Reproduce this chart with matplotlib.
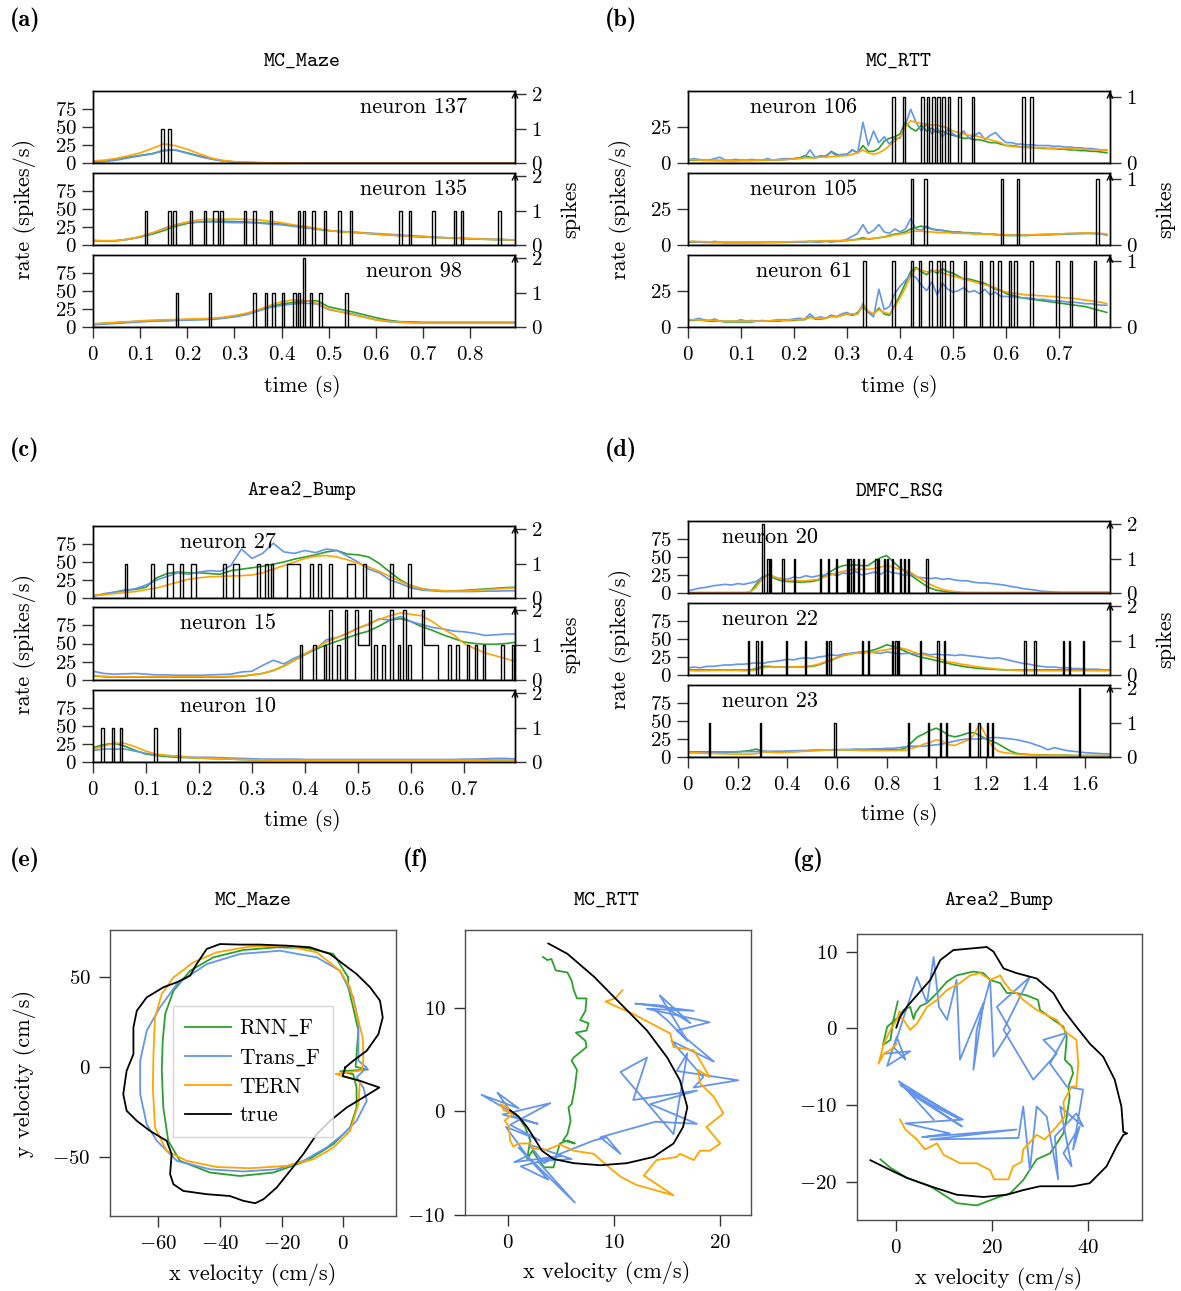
import numpy as np
import matplotlib.pyplot as plt
from matplotlib import ticker

plt.rcParams.update({
    'font.family': 'serif',
    'font.serif': ['cmr10'],
    'mathtext.fontset': 'cm',
    'axes.formatter.use_mathtext': True,
    'axes.linewidth': 1.0,
    'xtick.direction': 'out',
    'ytick.direction': 'out',
    'xtick.major.size': 8,
    'ytick.major.size': 8,
    'xtick.major.width': 1.0,
    'ytick.major.width': 1.0,
    'xtick.color': '0.2',
    'ytick.color': '0.2',
    'xtick.labelcolor': 'black',
    'ytick.labelcolor': 'black',
    'xtick.labelsize': 15,
    'ytick.labelsize': 15,
})

C_RNN = '#2ca02c'
C_TRANS = 'cornflowerblue'
C_TERN = 'orange'
C_TRUE = 'black'

# ---------------- (a) MC_Maze firing rates, 25 ms grid ----------------
t_a = np.arange(37) * 0.025
a137_rnn = [1.5, 2.5, 5, 8, 10.5, 13, 17.5, 18, 14, 10, 6, 3, 1.5, 0.8, 0.4, 0.2, 0.1, 0.05,
            0, 0, 0, 0, 0, 0, 0, 0, 0, 0, 0, 0, 0, 0, 0, 0, 0, 0, 0]
a137_trans = [1, 2, 4, 7, 10, 12.5, 17, 18, 13.5, 9, 5.5, 2.8, 1.3, 0.7, 0.3, 0.2, 0.1, 0.05,
              0, 0, 0, 0, 0, 0, 0, 0, 0, 0, 0, 0, 0, 0, 0, 0, 0, 0, 0]
a137_tern = [3, 4, 6.5, 10, 14, 20, 26.5, 24, 19, 13, 7, 3.7, 1.8, 1, 0.6, 0.3, 0.2, 0.1,
             0, 0, 0, 0, 0, 0, 0, 0, 0, 0, 0, 0, 0, 0, 0, 0, 0, 0, 0]
a135_rnn = [6, 5.5, 6, 8, 11, 15, 20, 26, 30, 32, 33, 33, 32.5, 32, 31, 30, 29, 27, 25, 22,
            20, 18.5, 17.5, 16.5, 15, 14, 13, 12, 11, 10.5, 10, 9.3, 8.5, 8, 7.5, 7.2, 7]
a135_trans = [6, 5.5, 6, 8, 11, 16, 23, 28, 31, 32, 32, 31.5, 31, 31, 30.5, 29, 28, 26, 24, 22,
              20, 19, 18, 17, 16, 15, 14, 13, 12, 11, 10, 9.5, 9, 8.5, 8, 7.5, 7]
a135_tern = [6.5, 6, 6, 8, 12, 17, 22, 28, 32, 35, 36, 36, 36, 35.5, 35, 33, 31, 28, 26, 23,
             20, 18.5, 17.5, 16.5, 15.5, 14, 13, 12, 11.5, 10.5, 10, 9.5, 8.7, 8.2, 7.8, 7.4, 7]
a98_rnn = [4, 5, 6, 7, 8, 8.5, 9, 9.5, 10, 10.5, 11, 12.5, 15, 18, 23, 28, 32, 34, 36, 36.5,
           28, 24.5, 21, 17, 13, 9.5, 7.5, 7, 6.5, 6.5, 6.5, 6.5, 6.5, 6.5, 6.5, 6.5, 6.5]
a98_trans = [3, 4, 5, 6, 7, 8, 8.5, 9, 9.5, 10, 10.5, 12, 14, 17, 22, 27, 30, 32, 33, 32,
             24, 21, 18, 14, 10, 7.5, 6.5, 6, 5.5, 5.5, 5.5, 5.5, 5.5, 5.5, 5.5, 5.5, 5.5]
a98_tern = [4.5, 5.5, 6.5, 7.5, 8.5, 9.5, 10, 10.5, 11, 11.5, 12, 13.5, 16, 19, 24, 30, 35, 37.5, 37, 33,
            25, 21, 17, 13.5, 10, 8, 7, 6, 5.5, 5.5, 5.5, 5.5, 5.5, 5.5, 5.5, 5.5, 5.5]
a_spikes = [
    [0.1475, 0.1625],
    [0.1125, 0.1625, 0.1725, 0.2075, 0.2375, 0.2575, 0.2625, 0.2725, 0.3225, 0.3425, 0.3775,
     0.4375, 0.4475, 0.4675, 0.4925, 0.5225, 0.5475, 0.6525, 0.6725, 0.7225, 0.7675, 0.7825, 0.8625],
    [0.1775, 0.2475, 0.3425, 0.3675, 0.3825, 0.4025, 0.4275, 0.4375, 0.4475, 0.4475, 0.4625,
     0.4825, 0.5375],
]
a_names = ['neuron 137', 'neuron 135', 'neuron 98']

# ---------------- (b) MC_RTT firing rates, 10 ms grid ----------------
t_b = np.arange(80) * 0.01
b106_rnn = [2, 2, 2, 1.8, 1.8, 1.7, 1.7, 1.6, 1.6, 1.6, 1.7, 1.7, 1.8, 1.8, 1.9, 2, 2, 2.2, 2.4, 2.6,
            3, 3.5, 5, 4, 3.5, 5, 4, 8, 6, 5,
            6, 9, 7, 12, 8, 8, 10, 15, 17, 18,
            20, 28, 24, 22, 26, 22, 24, 21, 22, 20,
            19, 18, 17, 17, 16, 16, 15, 14, 14, 13,
            12, 12, 11.5, 11, 11, 10.5, 10.5, 10, 10, 10,
            9.5, 9.5, 9, 9, 8.5, 8.5, 8, 8, 7.5, 7]
b106_trans = [2, 3, 2.5, 2, 2, 3, 4, 2, 2, 2.5, 2, 2, 2.5, 2, 2, 3, 2, 2.5, 3, 3,
              3, 3.5, 4, 9, 4, 4.5, 5, 7.5, 5, 6,
              6, 9, 7, 28, 12, 22, 14, 18, 13, 17,
              17, 26, 37, 28, 22, 27, 20, 24, 18, 23,
              20, 18, 22, 17, 19, 21, 16, 19, 21, 17,
              14, 14, 13, 13, 12.5, 12.5, 12, 12, 12, 11.5,
              11.5, 11, 11, 10.5, 10.5, 10, 10, 9.5, 9, 9]
b106_tern = [2.5, 2.3, 2, 2, 1.8, 1.8, 1.7, 1.7, 1.7, 1.7, 1.8, 1.8, 1.8, 1.9, 2, 2, 2.1, 2.2, 2.3, 2.5,
             2.8, 3, 3.5, 3.5, 3.5, 4, 4, 4.5, 4.5, 5,
             5, 6, 7, 9, 7, 6, 7, 9, 12, 15,
             18, 25, 29, 28, 27, 27, 26, 26, 25, 24,
             22, 21, 20, 19, 19, 18, 17, 16, 15, 14,
             12, 11.5, 11, 11, 10.5, 10.5, 10.5, 10.5, 10, 10,
             10, 10, 10, 9.5, 9.5, 9.5, 9, 9, 9, 8.5]
b105_rnn = [2, 2, 2, 1.8, 1.8, 1.7, 1.7, 1.6, 1.6, 1.6, 1.6, 1.6, 1.6, 1.6, 1.7, 1.7, 1.8, 1.8, 1.9, 2,
            2, 2.1, 2.2, 2.3, 2.4, 2.5, 2.6, 2.7, 2.8, 3,
            3, 3.5, 4, 5, 4, 4.5, 5, 5.5, 6.5, 7.5,
            8, 9, 11, 12, 13, 12, 11, 10.5, 10, 9.5,
            9, 9, 8.5, 8.5, 8, 8, 7.5, 7.5, 7, 7,
            6.5, 6.5, 6.5, 6.5, 6.5, 6.8, 7, 7, 7, 7.2,
            7.3, 7.5, 7.6, 7.8, 7.8, 8, 8, 7.8, 7.5, 7]
b105_trans = [2, 2.5, 2, 2, 2, 2.5, 2, 1.8, 1.8, 1.8, 1.8, 1.8, 2, 1.8, 1.8, 2, 1.8, 2, 2, 2,
              2, 2, 2, 2.5, 2, 2, 2.5, 2, 2.5, 2.5,
              4, 6, 8, 14, 8, 10, 14, 9, 8, 11,
              9, 11, 18, 11, 10, 13, 11, 10, 10, 9,
              9, 9, 8, 8, 8, 8, 7.5, 7.5, 7.5, 7,
              7, 7, 7, 7, 7, 7, 7.2, 7.3, 7.4, 7.5,
              7.6, 7.7, 7.8, 7.9, 8, 8, 8, 8, 7.5, 7]
b105_tern = [2.5, 2.5, 2.4, 2.3, 2.2, 2, 2, 2, 2, 2, 2, 2, 2, 2, 2, 2, 2, 2, 2, 2.2,
             2.3, 2.4, 2.5, 2.6, 2.7, 2.8, 2.9, 3, 3, 3.1,
             3.2, 3.5, 3.7, 4, 4.2, 4.5, 5, 5.5, 6, 7,
             7.5, 8, 9, 9.5, 9.5, 9, 9, 8.5, 8.5, 8.5,
             8, 8, 8, 8, 7.5, 7.5, 7.5, 7.5, 7, 7,
             7, 6.8, 6.8, 6.8, 6.8, 7, 7, 7.2, 7.4, 7.5,
             7.6, 7.8, 8, 8, 8.2, 8.3, 8.3, 8.2, 8, 7.5]
b61_rnn = [4.5, 4.5, 5, 4.5, 4, 4, 4, 3.5, 3.5, 3.5, 3.5, 3.5, 3.5, 4, 4, 4, 4, 4, 4.5, 4.5,
           4.5, 5, 5, 7, 5.5, 5.5, 6, 8, 7, 8,
           9, 8, 10, 14, 10, 9, 13, 9, 8, 15,
           22, 30, 38, 41, 38, 36, 39, 37, 40, 38,
           37, 35, 33, 33, 32, 31, 30, 28, 26, 25,
           23, 22, 21, 20, 19.5, 19, 18.5, 18, 17.5, 17,
           16.5, 16, 15.5, 15, 14.5, 14, 13, 12, 11, 10]
b61_trans = [5, 5, 6, 5, 4.5, 5.5, 4, 4, 4, 4, 5, 4, 4.5, 4, 4.5, 4, 4.5, 5, 5, 5,
             5.5, 6, 5.5, 9, 6, 7, 6, 8, 7, 9,
             10, 8, 9, 16, 10, 7, 26, 12, 14, 23,
             28, 32, 36, 34, 29, 25, 31, 22, 30, 26,
             24, 25, 27, 24, 25, 23, 26, 22, 24, 21,
             21, 21, 20.5, 20, 20, 19.5, 19, 19, 18.5, 18,
             18, 17.5, 17, 17, 16.5, 16, 16, 15.5, 15, 15]
b61_tern = [5, 5, 5, 4.5, 4.5, 4.5, 4, 4, 4, 4, 4, 4, 4, 4, 4, 4.2, 4.3, 4.5, 4.6, 4.8,
            5, 5, 5.5, 6.5, 6, 6, 6, 7, 7, 8,
            9, 9, 9, 15, 11, 9, 12, 10, 9, 14,
            20, 27, 35, 40, 39, 38, 38, 39, 37, 36,
            35, 34, 33, 32, 31, 30, 29, 28, 27, 25,
            24, 23.5, 23, 22.5, 22, 22, 21.5, 21.5, 21, 21,
            20.5, 20, 20, 19.5, 19, 18.5, 18, 17.5, 17, 16]
b_spikes = [
    [0.3875, 0.4075, 0.4425, 0.4525, 0.4625, 0.4725, 0.4825, 0.4925, 0.5125, 0.5375, 0.6325, 0.6475],
    [0.4225, 0.4475, 0.5925, 0.6225, 0.7725],
    [0.3325, 0.3875, 0.4225, 0.4375, 0.4575, 0.4725, 0.4825, 0.4975, 0.5225, 0.5525, 0.5725,
     0.5875, 0.6075, 0.6175, 0.6475, 0.6975, 0.7225, 0.7675],
]
b_names = ['neuron 106', 'neuron 105', 'neuron 61']

# ---------------- (c) Area2_Bump firing rates, 20 ms grid ----------------
t_c = np.arange(41) * 0.02
c27_rnn = [3, 5, 8, 11, 12, 15, 28, 34, 36, 35, 35, 34, 33, 38, 40, 42, 44, 47, 50, 54,
           57, 60, 64, 66, 61, 60, 57, 48, 36, 25, 17, 13, 11, 10, 10, 10.5, 11.5, 12.5, 13.5, 14.5, 15]
c27_trans = [2, 6, 8, 10, 13, 18, 25, 30, 35, 33, 36, 38, 37, 45, 68, 55, 62, 76, 64, 62,
             66, 63, 68, 66, 58, 50, 40, 35, 25, 20, 14, 11, 10, 9, 9, 9, 9, 9.5, 9.5, 10, 10]
c27_tern = [4, 4.5, 6, 7.5, 9, 11.5, 14, 18, 22, 26, 28, 29.5, 30, 30.5, 31, 32, 35, 40, 45, 50,
            55, 58, 59, 57, 53, 48, 43, 37, 30, 23, 17, 13, 11, 10, 9.7, 9.7, 10.5, 11.5, 12.5, 13.5, 14]
c15_rnn = [5.5, 4.5, 4, 4, 4, 4, 4, 4, 4, 4, 4, 4, 4, 4.5, 5, 7, 9, 13, 19, 27,
           35, 42, 48, 53, 58, 63, 67, 74, 82, 84, 80, 73, 68, 62, 57, 52, 50, 49, 49, 50, 52]
c15_trans = [12, 9, 8, 8.5, 9, 8, 7, 7, 6.5, 6.5, 6.5, 7, 7.5, 8, 11, 12, 20, 27, 22, 30,
             36, 42, 55, 58, 64, 71, 76, 84, 82, 87, 80, 76, 72, 70, 67, 66, 64, 61, 62, 63, 63]
c15_tern = [6, 5, 4.5, 4.5, 4.5, 4.5, 4.5, 4.5, 4.5, 4.5, 4.5, 4.5, 4.5, 5, 5.5, 7, 9, 13, 19, 27,
            36, 44, 52, 58, 64, 71, 77, 83, 88, 92, 90, 88, 80, 70, 62, 50, 43, 37, 33, 29, 25]
c10_rnn = [20, 24, 26, 22, 16, 11, 9, 7.5, 6.5, 6, 5.5, 5, 4.5, 4, 3.5, 3, 3, 3, 3, 3,
           3, 3, 3, 3, 3, 3, 3, 3, 3, 3, 3, 3, 3, 3, 3, 3, 3, 3, 3, 3, 3]
c10_trans = [16, 18, 18, 18, 15, 12, 10, 9, 8, 7, 6.5, 6.5, 6, 5.5, 5, 4.5, 4, 4, 4, 4,
             3.5, 3.5, 3.5, 3.5, 3.5, 3.5, 3.5, 3.5, 3.5, 3.5, 3.5, 3.5, 3.5, 3.5, 3.5, 4, 4, 4.5, 5, 5, 4]
c10_tern = [18, 22, 26, 26, 21, 15, 11, 9, 8, 6.5, 5.5, 5, 4.5, 4, 3.5, 3, 3, 2.5, 2.5, 2.5,
            2.5, 2.5, 2.5, 2.5, 2.5, 2.5, 2.5, 2.5, 2.5, 2.5, 2.5, 2.5, 2.5, 2.5, 2.5, 2.5, 2.5, 2.5, 3, 3, 2.5]
c_spikes = [
    [0.0625, 0.1125, 0.1425, 0.1475, 0.1675, 0.1875, 0.1925, 0.2475, 0.2675, 0.2725, 0.3125,
     0.3275, 0.3375, 0.3675, 0.3725, 0.3775, 0.3825, 0.3875, 0.4125, 0.4275, 0.4475, 0.4825,
     0.4875, 0.4925, 0.5125, 0.5625, 0.5975],
    [0.3925, 0.4175, 0.4375, 0.4475, 0.4475, 0.4625, 0.4775, 0.4775, 0.4975, 0.4975, 0.5025,
     0.5075, 0.5125, 0.5175, 0.5225, 0.5225, 0.5325, 0.5475, 0.5625, 0.5625, 0.5775, 0.5875,
     0.5875, 0.5975, 0.6225, 0.6225, 0.6275, 0.6325, 0.6375, 0.6425, 0.6475, 0.6725, 0.6875,
     0.7075, 0.7225, 0.7375, 0.7725, 0.7925],
    [0.0175, 0.0375, 0.0525, 0.1175, 0.1625],
]
c_names = ['neuron 27', 'neuron 15', 'neuron 10']

# ---------------- (d) DMFC_RSG firing rates, 25 ms grid ----------------
t_d = np.arange(69) * 0.025
d20_rnn = [0.5, 0.5, 0.5, 0.5, 0.5, 0.5, 0.5, 0.5, 0.5, 0.5,
           1, 12, 22, 25, 20, 17, 16, 15.5, 15, 15.5,
           16, 18, 24, 30, 35, 38, 39, 39, 38, 38,
           44, 49, 52, 44, 36, 30, 24, 18, 12, 7,
           4, 2.5, 1.5, 1, 0.5, 0.5, 0.5, 0.5, 0.5, 0.5,
           0.5, 0.5, 0.5, 0.5, 0.5, 0.5, 0.5, 0.5, 0.5, 0.5,
           0.5, 0.5, 0.5, 0.5, 0.5, 0.5, 0.5, 0.5, 0.5]
d20_trans = [3, 5, 7, 8, 10, 11, 12, 11, 13, 12,
             14, 16, 22, 26, 22, 20, 19, 22, 21, 24,
             22, 24, 25, 27, 24, 28, 26, 30, 25, 27,
             29, 26, 31, 28, 27, 24, 26, 22, 21, 20,
             21, 19, 20, 18, 17, 17, 15, 14, 14, 13,
             12, 11, 9, 8, 6, 5, 4, 2.5, 2, 1.5,
             1, 1, 1, 1, 1, 1, 1, 1, 1]
d20_tern = [0.5, 0.5, 0.5, 0.5, 0.5, 0.5, 0.5, 0.5, 0.5, 0.5,
            1, 8, 20, 25, 22, 20, 18, 17, 17, 17,
            18, 19, 22, 25, 28, 30, 32, 33, 33, 33,
            34, 36, 38, 36, 33, 31, 28, 22, 17, 12,
            8, 5, 3, 2, 1, 0.5, 0.5, 0.5, 0.5, 0.5,
            0.5, 0.5, 0.5, 0.5, 0.5, 0.5, 0.5, 0.5, 0.5, 0.5,
            0.5, 0.5, 0.5, 0.5, 0.5, 0.5, 0.5, 0.5, 0.5]
d22_rnn = [7, 7, 7, 7, 7, 7, 7, 7, 7, 7,
           7, 9, 12, 12, 11, 11, 11, 11, 11, 11.5,
           12, 14, 17, 20, 24, 27, 29, 31, 32, 33,
           35, 38, 42, 40, 37, 33, 29, 26, 24, 22,
           20, 18, 16, 14, 12.5, 11, 10, 9, 8.5, 8,
           7.5, 7, 7, 7, 7, 7, 7, 7, 7, 7,
           7, 7, 7, 7, 7, 7, 7, 7, 7]
d22_trans = [10, 11, 10, 12, 12, 13, 14, 14, 15, 15,
             16, 17, 16, 18, 19, 20, 22, 21, 23, 24,
             23, 25, 26, 28, 27, 29, 30, 31, 30, 32,
             31, 30, 32, 31, 29, 30, 30, 29, 30, 28,
             29, 28, 28, 27, 28, 27, 26, 25, 24, 23,
             24, 22, 20, 18, 16, 15, 13, 12, 11, 11,
             10, 10, 9, 9, 8, 8, 8, 7, 7]
d22_tern = [6, 6, 6, 6, 6.5, 6.5, 6.5, 6.5, 6.5, 6,
            6, 7, 10, 11, 11, 11, 11, 11, 11.5, 12,
            13, 15, 18, 21, 24, 27, 29, 30, 31, 31,
            32, 34, 35, 37, 38, 36, 33, 30, 28, 26,
            24, 21, 18, 17, 15, 14, 12, 11, 10, 9,
            8, 7.5, 7, 6.5, 6, 6, 6, 6, 6, 6,
            6, 6, 6, 6, 6, 6, 6, 6, 6]
d23_rnn = [7, 7, 7, 7, 7, 7, 7, 7, 7, 8,
           9, 11, 8, 7, 7, 7, 7, 7.5, 8, 8.5,
           9, 9.5, 10, 10, 10, 10, 10, 10, 10, 10,
           10, 10, 10, 10, 10, 12, 20, 28, 32, 37,
           40, 36, 30, 28, 30, 33, 34, 30, 25, 22,
           18, 13, 8, 5, 4, 3.5, 3, 3, 2.5, 2.5,
           2.5, 2.5, 2, 2, 2, 2, 2, 2, 2]
d23_trans = [6, 6, 6, 6.5, 6.5, 7, 7, 7, 7.5, 7.5,
             7.5, 7.5, 8, 8, 8, 8, 8.5, 8.5, 9, 9,
             9.5, 9.5, 10, 10, 10, 10.5, 10.5, 11, 11, 11,
             11.5, 11.5, 12, 12, 13, 14, 15, 15, 15, 16,
             17, 18, 20, 22, 24, 25, 25, 25, 26, 27,
             27, 26, 25, 24, 22, 20, 17, 14, 10, 13,
             11, 9, 8, 7, 6, 5.5, 5, 4.5, 4]
d23_tern = [6, 6, 5.5, 5, 5, 4.5, 4.5, 4, 4, 4,
            4, 4.5, 7, 7, 6, 6, 6.5, 7, 7.5, 8,
            8.5, 9, 9.5, 10, 10, 10, 10, 9.5, 9, 9,
            9, 9, 9, 9, 9.5, 9, 12, 14, 18, 20,
            24, 22, 17, 16, 20, 23, 30, 46, 30, 15,
            8, 6, 5, 4, 3.5, 3, 3, 2.5, 2.5, 2.5,
            2.5, 2, 2, 2, 2, 2, 2, 2, 2]
d_spikes = [
    [0.3025, 0.3025, 0.3225, 0.3325, 0.3825, 0.4275, 0.5325, 0.5675, 0.5975, 0.6425, 0.6525,
     0.6675, 0.6875, 0.7075, 0.7575, 0.7675, 0.7925, 0.8025, 0.8225, 0.8575, 0.8725, 0.8875, 0.9625],
    [0.2425, 0.2775, 0.2975, 0.3975, 0.4725, 0.5575, 0.5725, 0.7025, 0.7275, 0.8225, 0.8375,
     0.8475, 0.9375, 1.0075, 1.0325, 1.3575, 1.3975, 1.5125, 1.5375, 1.5925],
    [0.0875, 0.2925, 0.5925, 0.8875, 0.9675, 1.0175, 1.0425, 1.1325, 1.1725, 1.2075, 1.2275,
     1.5775, 1.5775],
]
d_names = ['neuron 20', 'neuron 22', 'neuron 23']

# ---------------- (e) MC_Maze hand velocity ----------------
e_rnn_x = [1.6, -3.2, -11.9, -21.6, -32.4, -42.2, -49.7, -55.1, -57.8, -58.6, -58.9, -58.4, -56.8, -53.0,
           -43.2, -33.5, -22.7, -11.9, -3.2, 2.2, 4.3, 4.3, 3.2, -1.0, 8.0, 4.0, 4.3, 4.9, 3.2, 1.6, 1.6]
e_rnn_y = [49.6, 62.6, 65.9, 66.3, 64.8, 60.7, 53.3, 42.2, 29.3, 14.4, -2.2, -22.6, -41.1, -52.2,
           -58.7, -60.6, -58.7, -52.2, -42.9, -33.7, -22.6, -11.5, -4.1, -2.5, -1.5, 0.0, 7.0, 20.0, 32.9, 44.1, 49.6]
e_trans_x = [3.2, -1.1, -8.6, -20.5, -33.5, -44.3, -54.0, -59.5, -63.8, -65.9, -65.9, -63.8, -60.5, -54.0,
             -43.2, -32.4, -21.6, -13.0, -5.4, 0.0, 4.3, 7.6, 6.5, 4.3, 7.6, 4.9, 4.9, 3.2]
e_trans_y = [38.5, 53.3, 60.7, 64.4, 62.6, 57.0, 45.9, 32.9, 20.0, 3.3, -15.2, -31.9, -41.1, -52.2,
             -56.9, -58.1, -56.9, -52.2, -44.8, -37.4, -30.0, -18.9, -11.5, -5.9, -0.4, 3.3, 25.6, 38.5]
e_tern_x = [-1.1, -8.6, -18.4, -30.3, -41.1, -48.7, -55.1, -58.9, -61.1, -61.6, -61.8, -61.1, -57.3, -50.8,
            -41.1, -30.3, -18.4, -9.7, -3.2, 2.2, 4.9, 5.4, -2.5, 6.0, 6.5, 6.3, 4.3, 2.2, -1.1]
e_tern_y = [53.3, 63.5, 67.2, 66.7, 63.5, 57.9, 49.6, 40.4, 27.4, 7.0, -11.5, -33.7, -46.7, -52.2,
            -55.6, -56.3, -55.0, -51.3, -44.8, -35.6, -20.7, -7.8, -4.0, -2.0, 3.3, 16.3, 29.3, 44.1, 53.3]
e_true_x = [0.6, 3.2, 7.6, 11.4, 12.8, 11.9, 8.7, 4.3, 0.0, -4.3, -10.8, -18.4, -27.0, -33.5, -40.0,
            -44.3, -47.6, -49.7, -54.0, -58.4, -63.8, -67.0, -68.1, -68.1, -70.3, -71.4, -70.3, -67.0,
            -62.7, -57.3, -55.7, -56.2, -55.1, -51.9, -44.3, -36.8, -32.4, -28.6, -25.9, -21.6, -17.3,
            -13.0, -8.6, -4.3, 1.1, 6.5, 11.7, 5.4, -0.2, 0.6]
e_true_y = [-0.4, 3.3, 8.9, 18.1, 27.4, 36.7, 44.1, 51.5, 57.0, 62.6, 66.3, 67.2, 67.8, 67.8, 68.1,
            65.4, 57.0, 50.6, 46.9, 44.1, 38.5, 31.1, 21.9, 7.0, -2.2, -15.2, -24.4, -30.0, -35.6,
            -41.1, -48.5, -59.6, -65.2, -68.9, -70.7, -71.7, -74.4, -75.7, -73.5, -67.0, -57.8, -48.5,
            -37.4, -30.0, -22.6, -17.0, -11.5, -7.8, -5.2, -0.4]

# ---------------- (f) MC_RTT hand velocity ----------------
f_rnn_x = [3.3, 3.7, 4.1, 4.5, 5.6, 6.0, 6.2, 6.5, 7.4, 7.3, 6.8, 7.6, 7.4, 6.4, 7.3, 7.4, 6.2, 6.0, 6.5,
           6.3, 6.0, 5.7, 5.9, 5.6, 5.2, 6.3, 5.6, 4.9, 4.6, 4.3, 3.4, 2.7, 2.3, 1.8, 2.1, 1.6, 1.2, 0.7, 0.2]
f_rnn_y = [14.9, 14.6, 14.7, 13.6, 13.4, 12.6, 11.7, 10.9, 10.9, 9.7, 8.8, 8.5, 7.8, 7.6, 6.8, 6.2, 5.2,
           4.9, 4.0, 2.3, 0.7, 0.4, -0.9, -2.2, -2.8, -3.1, -2.8, -3.1, -4.1, -5.4, -5.4, -4.4, -3.8,
           -4.6, -2.8, -1.5, -0.9, -0.2, 0.0]
f_trans_x = [0.2, -2.5, 1.0, -1.0, 0.6, 2.8, -0.5, 4.0, 0.2, 3.0, -0.2, 1.8, 0.6, 5.0, 1.2, 3.8, 1.0, 6.3,
             2.8, 6.0, 2.0, 3.4, 4.9, 8.1, 9.3, 10.6, 8.7, 13.9, 17.8, 13.4, 17.8, 11.8, 13.1, 10.6, 15.6,
             16.9, 15.9, 21.7, 17.5, 18.4, 15.4, 19.4, 15.9, 19.0, 13.1, 17.5, 12.0, 14.6, 17.2, 14.3,
             16.9, 15.0, 13.7]
f_trans_y = [0.0, 1.6, 0.3, 1.8, -0.5, -1.2, -0.3, 0.8, -1.3, -2.8, -1.5, -4.3, -4.9, -4.3, -5.3, -6.6,
             -3.5, -8.8, -4.8, -4.6, -3.2, -5.0, -4.1, -2.8, -2.5, -4.1, -2.5, -1.0, -1.2, 0.7, 2.0, 1.1,
             5.2, 3.8, -2.2, 5.6, 3.9, 3.0, 2.3, 3.3, 6.8, 4.8, 7.8, 8.6, 9.9, 9.7, 10.4, 10.2, 8.5, 11.2,
             6.8, 8.8, 9.9]
f_tern_x = [10.8, 10.1, 9.2, 9.6, 11.8, 15.3, 15.6, 17.5, 18.1, 19.0, 17.9, 18.1, 19.4, 20.3, 18.7, 20.0,
            19.0, 18.1, 17.5, 16.2, 15.9, 14.0, 12.8, 15.6, 12.1, 10.6, 9.3, 8.1, 6.2, 4.9, 3.7, 2.4, 2.1,
            1.0, 0.5, 0.2, 0.1, -0.3, 0.5, -0.4, -0.7, -0.1, 0.2]
f_tern_y = [11.7, 10.9, 10.6, 10.4, 9.4, 7.5, 6.2, 5.9, 4.9, 3.3, 4.0, 2.7, 1.4, -0.2, -1.5, -3.1, -3.8,
            -3.8, -4.7, -4.1, -4.4, -4.7, -6.2, -8.1, -7.1, -6.3, -5.2, -4.1, -3.8, -3.2, -3.7, -3.6,
            -3.1, -3.1, -3.4, -2.8, -1.5, -0.9, -0.2, 0.1, 0.7, 0.4, 0.0]
f_true_x = [3.8, 5.6, 8.1, 10.6, 13.1, 15.0, 16.2, 16.9, 16.5, 15.6, 13.7, 11.2, 8.7, 6.2, 4.3, 3.2, 2.6,
            1.8, 1.0, 0.2]
f_true_y = [16.2, 15.2, 13.0, 10.4, 7.8, 5.2, 3.0, 0.4, -1.5, -3.1, -4.4, -5.0, -5.2, -5.0, -4.6, -3.8,
            -2.8, -1.5, -0.5, 0.1]

# ---------------- (g) Area2_Bump hand velocity ----------------
g_rnn_x = [-3.3, -1.2, 2.2, 7.1, 12.6, 16.8, 21.0, 23.8, 26.5, 29.3, 32.1, 34.9, 35.6, 36.2, 35.9, 36.9,
           36.6, 35.2, 35.6, 34.9, 32.8, 30.0, 29.6, 27.2, 25.1, 23.1, 21.7, 19.6, 18.2, 16.1, 12.6, 10.6,
           8.5, 6.4, 5.0, 4.0, 3.6, 2.9, 1.5, 0.5, -1.9, -2.8, -1.2, -0.6, 0.3]
g_rnn_y = [-17.1, -18.2, -19.5, -20.6, -22.8, -23.1, -22.1, -21.5, -19.8, -17.1, -16.3, -13.7, -11.5,
           -8.9, -7.6, -5.9, -5.0, -4.1, -1.1, 0.2, 1.1, 2.4, 3.7, 4.3, 4.6, 4.6, 5.9, 6.3, 7.2, 7.4, 6.9,
           6.1, 4.6, 3.3, 2.9, 2.0, 1.2, 2.8, 2.4, 1.5, 0.2, -2.2, -1.5, 1.1, 3.5]
g_trans_x = [-2.3, 2.9, -1.9, 0.1, 1.9, -0.5, 4.3, 6.4, 7.8, 8.9, 10.6, 12.6, 13.3, 18.2, 16.1, 16.8,
             19.6, 20.3, 23.8, 21.0, 27.9, 22.4, 28.6, 33.5, 30.7, 35.6, 32.1, 35.6, 39.0, 36.9, 38.3,
             34.9, 36.6, 34.2, 39.0, 37.6, 33.1, 33.8, 31.4, 29.3, 27.9, 26.5, 25.5, 7.1, 25.1, 5.4, 11.2,
             1.9, 13.9, 0.8, 13.7, 2.9, 13.3, 0.5, 7.8]
g_trans_y = [-3.3, -3.0, -4.9, -1.1, -4.1, -2.5, 6.7, 3.3, 9.3, 2.8, 1.1, 6.3, -4.1, 3.3, -5.4, -0.2,
             6.3, -3.7, -0.2, 2.8, 6.7, -0.2, -6.7, -3.3, -1.5, -0.6, -4.6, -7.6, -8.0, -15.8, -12.8,
             -16.3, -18.0, -10.2, -12.8, -11.1, -14.1, -19.7, -11.5, -10.2, -18.5, -10.2, -14.3, -14.5,
             -13.2, -14.2, -13.7, -12.4, -11.9, -7.4, -12.8, -8.5, -11.9, -6.9, -11.9]
g_tern_x = [0.8, 1.9, 4.3, 6.0, 8.5, 9.9, 13.3, 16.8, 19.6, 20.4, 23.4, 24.4, 26.2, 26.5, 29.3, 31.0,
            33.5, 35.2, 34.9, 36.6, 37.6, 38.0, 37.6, 35.6, 33.5, 32.1, 29.3, 26.5, 25.1, 23.8, 22.4,
            21.7, 19.6, 17.5, 15.4, 13.3, 10.6, 8.5, 6.4, 4.3, 2.9, 1.5, 0.5, 0.7, 0.1, -1.2, -2.6,
            -3.7, -2.6, -1.2, 0.1]
g_tern_y = [-11.9, -13.2, -14.5, -15.8, -15.0, -16.5, -17.6, -17.6, -18.5, -19.7, -19.7, -18.0, -17.4,
            -15.8, -13.9, -14.5, -12.8, -11.5, -9.6, -7.6, -7.6, -4.6, -1.5, -0.6, 1.1, 1.5, 2.4, 3.7,
            4.6, 5.0, 6.1, 6.9, 6.3, 7.2, 6.9, 5.9, 5.0, 3.7, 2.8, 0.6, -0.2, 1.1, 1.7, 2.2, 1.1, -0.2,
            -2.0, -4.6, -3.3, -2.8, -2.0]
g_true_x = [0.0, 0.8, 2.2, 4.3, 7.1, 9.2, 11.9, 15.4, 18.9, 20.3, 22.4, 25.1, 29.3, 32.8, 34.9, 37.6,
            40.4, 43.2, 45.6, 47.0, 47.4, 48.2, 47.4, 46.0, 43.9, 40.4, 36.9, 30.0, 26.5, 23.1, 18.2,
            12.6, 7.1, 2.2, -1.2, -5.4]
g_true_y = [0.1, 1.5, 2.8, 4.3, 6.3, 8.9, 10.2, 10.4, 10.6, 10.0, 7.8, 7.2, 6.5, 4.6, 2.4, 0.2, -2.0,
            -3.7, -6.7, -10.2, -13.5, -13.7, -13.9, -15.4, -18.0, -20.2, -20.6, -20.6, -21.1, -21.7,
            -22.0, -21.7, -20.6, -19.5, -18.5, -17.2]

W, H = 1181, 1291
fig = plt.figure(figsize=(W / 100, H / 100), dpi=100)


def add_px(l, t, r, b):
    return fig.add_axes([l / W, 1 - b / H, (r - l) / W, (b - t) / H])


def put(x, y, s, size=16, **kw):
    fig.text(x / W, 1 - y / H, s, ha='center', va='center', fontsize=size, **kw)


def num(v, pos=None):
    return r'$\mathdefault{%g}$' % round(v, 6)


def rate_block(left, right, rows, t, curves, spikes, names, name_x, xmax, xticks,
               ymax, yticks, smax, sticks):
    edges = np.arange(0, xmax + 0.005, 0.005)
    for k, (top, bot) in enumerate(rows):
        ax = add_px(left, top, right, bot)
        g, b, o = curves[k]
        ax.plot(t, g, color=C_RNN, lw=1.2)
        ax.plot(t, b, color=C_TRANS, lw=1.2)
        ax.plot(t, o, color=C_TERN, lw=1.2)
        ax.set_xlim(0, xmax)
        ax.set_ylim(0, ymax)
        ax.set_yticks(yticks)
        ax.yaxis.set_major_formatter(ticker.FuncFormatter(num))
        ax.text(name_x, 0.78, names[k], transform=ax.transAxes, ha='center', va='center',
                fontsize=16)
        if k == len(rows) - 1:
            ax.set_xticks(xticks)
            ax.xaxis.set_major_formatter(ticker.FuncFormatter(num))
            ax.tick_params(axis='x', pad=6)
        else:
            ax.set_xticks([])
        sp = ax.twinx()
        counts, _ = np.histogram(spikes[k], bins=edges)
        sp.stairs(counts, edges, color='k', lw=1.0)
        sp.set_ylim(0, smax)
        sp.set_yticks(sticks)
        sp.yaxis.set_major_formatter(ticker.FuncFormatter(num))
        sp.annotate('', xy=(1, 1.0), xytext=(1, 0.9), xycoords='axes fraction',
                    arrowprops=dict(arrowstyle='->', color='k', lw=1.0, shrinkA=0, shrinkB=0,
                                    mutation_scale=10))


rows_ab = [(91, 163), (173, 245), (255, 327)]
rows_c = [(526, 598), (607, 680), (690, 762)]
rows_d = [(521, 593), (603, 675), (685, 757)]

rate_block(93, 515, rows_ab, t_a,
           [(a137_rnn, a137_trans, a137_tern), (a135_rnn, a135_trans, a135_tern),
            (a98_rnn, a98_trans, a98_tern)],
           a_spikes, a_names, 0.76, 0.895, np.arange(0, 0.85, 0.1),
           100, [0, 25, 50, 75], 2.1, [0, 1, 2])
rate_block(688, 1110, rows_ab, t_b,
           [(b106_rnn, b106_trans, b106_tern), (b105_rnn, b105_trans, b105_tern),
            (b61_rnn, b61_trans, b61_tern)],
           b_spikes, b_names, 0.275, 0.796, np.arange(0, 0.75, 0.1),
           49.5, [0, 25], 1.09, [0, 1])
rate_block(93, 515, rows_c, t_c,
           [(c27_rnn, c27_trans, c27_tern), (c15_rnn, c15_trans, c15_tern),
            (c10_rnn, c10_trans, c10_tern)],
           c_spikes, c_names, 0.32, 0.796, np.arange(0, 0.75, 0.1),
           100, [0, 25, 50, 75], 2.1, [0, 1, 2])
rate_block(688, 1110, rows_d, t_d,
           [(d20_rnn, d20_trans, d20_tern), (d22_rnn, d22_trans, d22_tern),
            (d23_rnn, d23_trans, d23_tern)],
           d_spikes, d_names, 0.195, 1.70, np.arange(0, 1.65, 0.2),
           100, [0, 25, 50, 75], 2.1, [0, 1, 2])

for x, y, s in [(25, 20, '(a)'), (621, 20, '(b)'), (25, 450, '(c)'), (621, 450, '(d)'),
                (25, 860, '(e)'), (416, 860, '(f)'), (808, 860, '(g)')]:
    put(x, y, s, size=17.5, fontfamily='cmb10')

for x, y, s in [(302, 61, r'MC\_Maze'), (899, 61, r'MC\_RTT'), (302, 491, r'Area2\_Bump'),
                (899, 491, r'DMFC\_RSG'), (253, 900, r'MC\_Maze'), (607, 900, r'MC\_RTT'),
                (999, 900, r'Area2\_Bump')]:
    put(x, y, r'$\mathtt{%s}$' % s, size=15)

for x, y in [(25, 209), (620, 209), (25, 644), (620, 639)]:
    put(x, y, 'rate (spikes/s)', rotation=90)
for x, y in [(570, 209), (1165, 209), (570, 644), (1165, 639)]:
    put(x, y, 'spikes', rotation=90)
for x, y in [(302, 386), (899, 386), (302, 821), (899, 815)]:
    put(x, y, 'time (s)')


def traj(box, curves, xlim, ylim, xticks, yticks):
    ax = add_px(*box)
    for (x, y), c, lab in zip(curves, [C_RNN, C_TRANS, C_TERN, C_TRUE],
                              [r'RNN$\_$F', r'Trans$\_$F', 'TERN', 'true']):
        ax.plot(x, y, color=c, lw=1.3, label=lab)
    ax.set_xlim(*xlim)
    ax.set_ylim(*ylim)
    ax.set_xticks(xticks)
    ax.set_yticks(yticks)
    ax.xaxis.set_major_formatter(ticker.FuncFormatter(num))
    ax.yaxis.set_major_formatter(ticker.FuncFormatter(num))
    ax.tick_params(pad=6)
    for s in ax.spines.values():
        s.set_color('0.3')
    return ax


ax_e = traj((110, 930, 396, 1216),
            [(e_rnn_x, e_rnn_y), (e_trans_x, e_trans_y), (e_tern_x, e_tern_y), (e_true_x, e_true_y)],
            (-75.7, 17.1), (-82.8, 75.9), [-60, -40, -20, 0], [-50, 0, 50])
ax_e.legend(loc='center', bbox_to_anchor=(0.5, 0.505), fontsize=15.5, handlelength=2.1,
            handletextpad=0.4, fancybox=False, edgecolor='0.8', borderpad=0.55,
            labelspacing=0.42)
traj((465, 930, 751, 1215),
     [(f_rnn_x, f_rnn_y), (f_trans_x, f_trans_y), (f_tern_x, f_tern_y), (f_true_x, f_true_y)],
     (-4.05, 22.9), (-10.0, 17.5), [0, 10, 20], [-10, 0, 10])
traj((857, 934, 1142, 1220),
     [(g_rnn_x, g_rnn_y), (g_trans_x, g_trans_y), (g_tern_x, g_tern_y), (g_true_x, g_true_y)],
     (-8.2, 51.3), (-25.0, 12.3), [0, 20, 40], [-20, -10, 0, 10])

for x, y in [(253, 1275), (607, 1273), (999, 1278)]:
    put(x, y, 'x velocity (cm/s)')
put(25, 1073, 'y velocity (cm/s)', rotation=90)

fig.savefig('out.png', dpi=100)
